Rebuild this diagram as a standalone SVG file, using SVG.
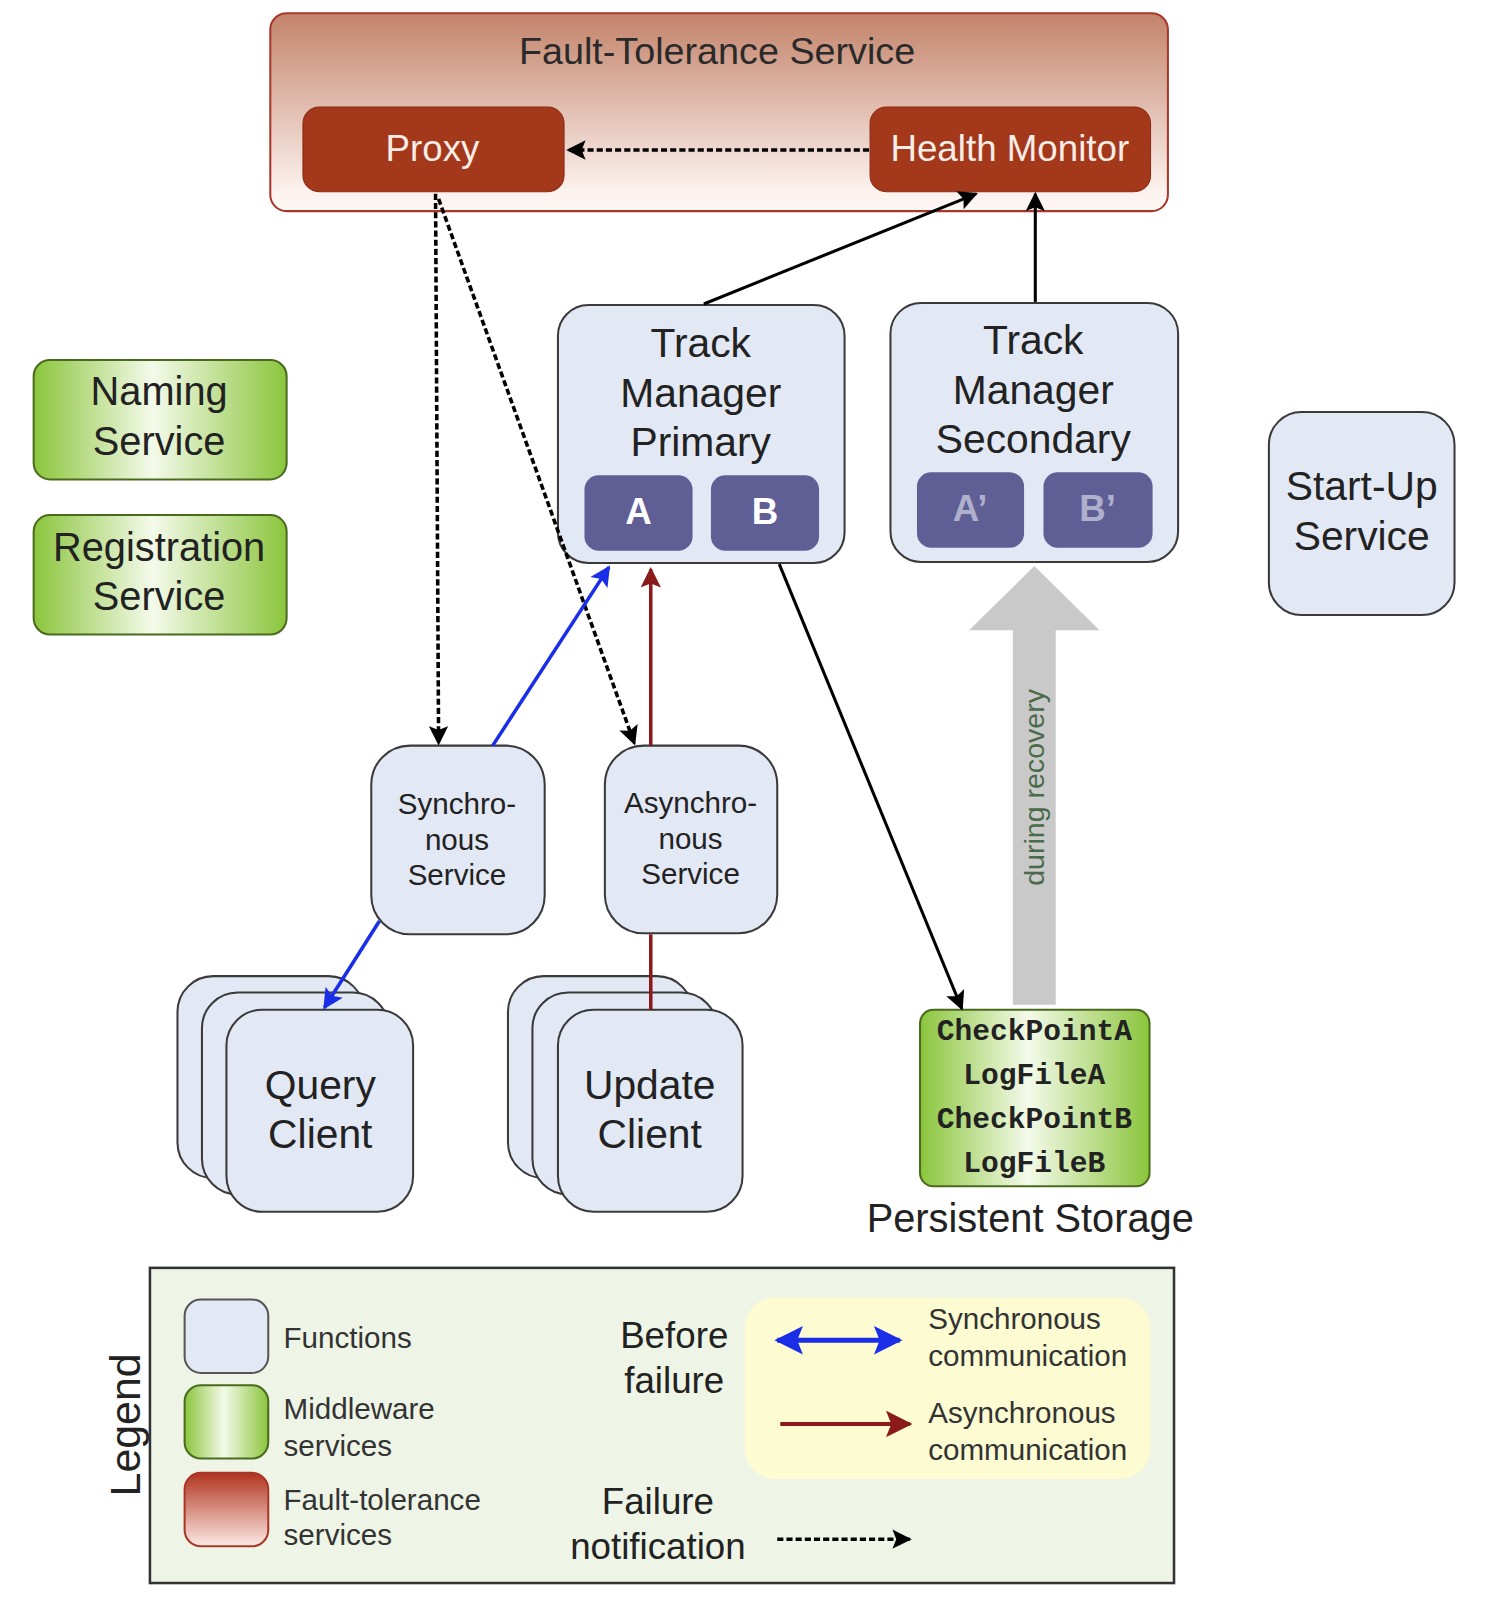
<svg xmlns="http://www.w3.org/2000/svg" width="1506" height="1599" viewBox="0 0 1506 1599">
<defs>
<style>
.t{font-family:"Liberation Sans",Arial,sans-serif;fill:#222;text-anchor:middle}
.tl{font-family:"Liberation Sans",Arial,sans-serif;fill:#333;text-anchor:start}
.mono{font-family:"Liberation Mono","Courier New",monospace;font-weight:bold;fill:#222;text-anchor:middle;font-size:29px}
.fn{fill:#e3e8f5;stroke:#3a3a3a;stroke-width:2}
.mw{fill:url(#greenH);stroke:#4a6a1e;stroke-width:2}
.ft{fill:#a3381b;stroke:#8a2a12;stroke-width:1}
.sub{fill:#5f5f96}
.dash{fill:none;stroke:#000;stroke-width:3.5;stroke-dasharray:6 3}
.solid{fill:none;stroke:#000;stroke-width:3}
.blue{fill:none;stroke:#1a2ee8;stroke-width:3.5}
.red{fill:none;stroke:#8b1a1a;stroke-width:3.5}
</style>
<linearGradient id="ftV" x1="0" y1="0" x2="0" y2="1">
<stop offset="0" stop-color="#c3836a"/>
<stop offset="0.9" stop-color="#fcf2ee"/>
<stop offset="1" stop-color="#fdf7f5"/>
</linearGradient>
<linearGradient id="greenH" x1="0" y1="0" x2="1" y2="0">
<stop offset="0" stop-color="#8bc53c"/>
<stop offset="0.47" stop-color="#f4faea"/>
<stop offset="1" stop-color="#8bc53c"/>
</linearGradient>
<linearGradient id="redV" x1="0" y1="0" x2="0" y2="1">
<stop offset="0" stop-color="#b0341e"/>
<stop offset="1" stop-color="#fdeae6"/>
</linearGradient>
<marker id="arrK" viewBox="0 0 10 10" refX="9" refY="5" markerWidth="22" markerHeight="19" markerUnits="userSpaceOnUse" orient="auto"><path d="M0,0 L10,5 L0,10 L2,5 z" fill="#000"/></marker>
<marker id="arrB" viewBox="0 0 10 10" refX="9" refY="5" markerWidth="24" markerHeight="20" markerUnits="userSpaceOnUse" orient="auto"><path d="M0,0 L10,5 L0,10 L2,5 z" fill="#1a2ee8"/></marker>
<marker id="arrR" viewBox="0 0 10 10" refX="9" refY="5" markerWidth="24" markerHeight="20" markerUnits="userSpaceOnUse" orient="auto"><path d="M0,0 L10,5 L0,10 L2,5 z" fill="#8b1a1a"/></marker>
<marker id="arrBL" viewBox="0 0 10 10" refX="9" refY="5" markerWidth="28" markerHeight="30" markerUnits="userSpaceOnUse" orient="auto-start-reverse"><path d="M0,0 L10,5 L0,10 L2,5 z" fill="#1a2ee8"/></marker>
<marker id="arrRL" viewBox="0 0 10 10" refX="9" refY="5" markerWidth="28" markerHeight="26" markerUnits="userSpaceOnUse" orient="auto"><path d="M0,0 L10,5 L0,10 L2,5 z" fill="#8b1a1a"/></marker>
</defs>
<rect width="1506" height="1599" fill="#fff"/>
<g transform="scale(1.02)">

<g id="fault-tolerance-service">
<rect x="265" y="13" width="880" height="194" rx="16" fill="url(#ftV)" stroke="#a8362a" stroke-width="2"/>
<text class="t" x="703" y="63" font-size="37" style="fill:#2a2a2a">Fault-Tolerance Service</text>
</g>
<g id="proxy">
<rect class="ft" x="297" y="105" width="256" height="83" rx="16"/>
<text class="t" x="424" y="158" font-size="36" style="fill:#f7ece6">Proxy</text>
</g>
<g id="health-monitor">
<rect class="ft" x="853" y="105" width="275" height="83" rx="16"/>
<text class="t" x="990" y="158" font-size="36" style="fill:#f7ece6">Health Monitor</text>
</g>

<g id="naming-service">
<rect class="mw" x="33" y="353" width="248" height="117" rx="16"/>
<text class="t" x="156" y="397" font-size="39">Naming</text>
<text class="t" x="156" y="446" font-size="39">Service</text>
</g>
<g id="registration-service">
<rect class="mw" x="33" y="505" width="248" height="117" rx="16"/>
<text class="t" x="156" y="550" font-size="39">Registration</text>
<text class="t" x="156" y="598" font-size="39">Service</text>
</g>

<g id="track-manager-primary">
<rect class="fn" x="547" y="299" width="281" height="253" rx="30"/>
<text class="t" x="687" y="350" font-size="40">Track</text>
<text class="t" x="687" y="399" font-size="40">Manager</text>
<text class="t" x="687" y="447" font-size="40">Primary</text>
<rect class="sub" x="573" y="466" width="106" height="74" rx="14"/>
<text class="t" x="626" y="514" font-size="36" font-weight="bold" style="fill:#fff">A</text>
<rect class="sub" x="697" y="466" width="106" height="74" rx="14"/>
<text class="t" x="750" y="514" font-size="36" font-weight="bold" style="fill:#fff">B</text>
</g>
<g id="track-manager-secondary">
<rect class="fn" x="873" y="297" width="282" height="254" rx="30"/>
<text class="t" x="1013" y="347" font-size="40">Track</text>
<text class="t" x="1013" y="396" font-size="40">Manager</text>
<text class="t" x="1013" y="444" font-size="40">Secondary</text>
<rect class="sub" x="899" y="463" width="105" height="74" rx="14"/>
<text class="t" x="951" y="511" font-size="36" font-weight="bold" style="fill:#aeb0cc">A’</text>
<rect class="sub" x="1023" y="463" width="107" height="74" rx="14"/>
<text class="t" x="1076" y="511" font-size="36" font-weight="bold" style="fill:#aeb0cc">B’</text>
</g>

<g id="start-up-service">
<rect class="fn" x="1244" y="404" width="182" height="199" rx="32"/>
<text class="t" x="1335" y="490" font-size="40">Start-Up</text>
<text class="t" x="1335" y="539" font-size="40">Service</text>
</g>

<g id="synchronous-service">
<rect class="fn" x="364" y="731" width="170" height="185" rx="38"/>
<text class="t" x="448" y="798" font-size="29">Synchro-</text>
<text class="t" x="448" y="833" font-size="29">nous</text>
<text class="t" x="448" y="868" font-size="29">Service</text>
</g>
<g id="asynchronous-service">
<rect class="fn" x="593" y="731" width="169" height="184" rx="38"/>
<text class="t" x="677" y="797" font-size="29">Asynchro-</text>
<text class="t" x="677" y="832" font-size="29">nous</text>
<text class="t" x="677" y="867" font-size="29">Service</text>
</g>

<g id="query-client">
<rect class="fn" x="174" y="957" width="183" height="198" rx="35"/>
<rect class="fn" x="198" y="973" width="183" height="198" rx="35"/>
<rect class="fn" x="222" y="990" width="183" height="198" rx="35"/>
<text class="t" x="314" y="1077" font-size="40">Query</text>
<text class="t" x="314" y="1125" font-size="40">Client</text>
</g>
<g id="update-client">
<rect class="fn" x="498" y="957" width="181" height="198" rx="35"/>
<rect class="fn" x="522" y="973" width="181" height="198" rx="35"/>
<rect class="fn" x="547" y="990" width="181" height="198" rx="35"/>
<text class="t" x="637" y="1077" font-size="40">Update</text>
<text class="t" x="637" y="1125" font-size="40">Client</text>
</g>

<g id="persistent-storage">
<rect class="mw" x="902" y="990" width="225" height="173" rx="13"/>
<text class="mono" x="1014" y="1020">CheckPointA</text>
<text class="mono" x="1014" y="1063">LogFileA</text>
<text class="mono" x="1014" y="1106">CheckPointB</text>
<text class="mono" x="1014" y="1149">LogFileB</text>
<text class="t" x="1010" y="1208" font-size="39">Persistent Storage</text>
</g>

<g id="connectors">
<path class="dash" d="M852,147 L557,147" marker-end="url(#arrK)"/>
<path class="dash" d="M427,190 L430,729" marker-end="url(#arrK)"/>
<path class="dash" d="M430,195 L622,729" marker-end="url(#arrK)"/>
<path class="solid" d="M690,298 L957,190" marker-end="url(#arrK)"/>
<path class="solid" d="M1015,296 L1015,190" marker-end="url(#arrK)"/>
<path class="blue" d="M483,731 L597,556" marker-end="url(#arrB)"/>
<path class="blue" d="M372,903 L318,988" marker-end="url(#arrB)"/>
<path class="red" d="M638,990 L638,916"/>
<path class="red" d="M638,731 L638,558" marker-end="url(#arrR)"/>
<path class="solid" d="M764,553 L943,989" marker-end="url(#arrK)"/>
<g id="recovery-arrow">
<polygon points="993,985 993,618 950,618 1014,555 1078,618 1035,618 1035,985" fill="#c9c9c9"/>
<text class="t" transform="translate(1024,772) rotate(-90)" font-size="28" style="fill:#4a6b4a">during recovery</text>
</g>
</g>

<g id="legend">
<rect x="147" y="1243" width="1004" height="309" fill="#eef5e6" stroke="#333" stroke-width="2.5"/>
<text class="t" transform="translate(137,1397) rotate(-90)" font-size="42">Legend</text>
<rect x="181" y="1274" width="82" height="72" rx="16" fill="#e3e8f5" stroke="#555" stroke-width="2"/>
<text class="tl" x="278" y="1322" font-size="29">Functions</text>
<rect x="181" y="1358" width="82" height="72" rx="16" fill="url(#greenH)" stroke="#4a6a1e" stroke-width="2"/>
<text class="tl" x="278" y="1391" font-size="29">Middleware</text>
<text class="tl" x="278" y="1427" font-size="29">services</text>
<rect x="181" y="1444" width="82" height="72" rx="16" fill="url(#redV)" stroke="#a8362a" stroke-width="2"/>
<text class="tl" x="278" y="1480" font-size="29">Fault-tolerance</text>
<text class="tl" x="278" y="1515" font-size="29">services</text>
<rect x="730" y="1272" width="398" height="178" rx="30" fill="#fcfbd2"/>
<text class="t" x="661" y="1322" font-size="36">Before</text>
<text class="t" x="661" y="1366" font-size="36">failure</text>
<text class="t" x="645" y="1484" font-size="36">Failure</text>
<text class="t" x="645" y="1528" font-size="36">notification</text>
<path d="M762,1314 L882,1314" stroke="#1a2ee8" stroke-width="5" fill="none" marker-start="url(#arrBL)" marker-end="url(#arrBL)"/>
<path d="M765,1396 L892,1396" stroke="#8b1a1a" stroke-width="4" fill="none" marker-end="url(#arrRL)"/>
<path class="dash" d="M762,1509 L892,1509" marker-end="url(#arrK)"/>
<text class="tl" x="910" y="1303" font-size="29">Synchronous</text>
<text class="tl" x="910" y="1339" font-size="29">communication</text>
<text class="tl" x="910" y="1395" font-size="29">Asynchronous</text>
<text class="tl" x="910" y="1431" font-size="29">communication</text>
</g>

</g>
</svg>
